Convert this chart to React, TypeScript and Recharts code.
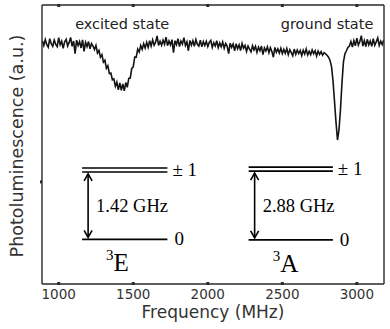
import { LineChart, Line, XAxis, YAxis, ReferenceLine, ReferenceDot } from 'recharts'

// ODMR trace, sampled every 10 MHz starting at 890 MHz
const FREQ_START = 890
const FREQ_STEP = 10

const PL = [
  87.2, 85.5, 87.6, 85.8, 84.9, 87.9, 86.1, 85.2, 87.4, 85.9,
  85.1, 88.3, 85.7, 87.0, 84.5, 86.8, 87.7, 85.3, 86.6, 88.4,
  85.2, 87.1, 82.6, 87.4, 85.5, 86.9, 84.6, 87.5, 83.4, 86.6,
  85.1, 86.9, 84.3, 86.2, 85.3, 84.0, 85.5, 82.8, 83.7, 81.3,
  82.2, 79.5, 80.2, 77.3, 78.2, 75.4, 75.6, 73.2, 73.5, 70.9,
  72.4, 69.6, 72.1, 69.4, 71.7, 69.2, 72.2, 70.5, 73.7, 73.8,
  77.3, 77.8, 81.3, 81.3, 84.2, 83.2, 85.5, 84.1, 86.1, 84.6,
  86.6, 84.8, 87.2, 85.3, 87.5, 85.6, 86.7, 88.9, 85.5, 87.0,
  85.6, 87.4, 85.9, 88.5, 85.4, 87.1, 85.7, 87.6, 82.9, 87.2,
  85.8, 87.9, 85.1, 87.1, 86.0, 88.3, 85.5, 86.8, 83.6, 87.3,
  85.6, 87.2, 85.2, 87.6, 85.9, 85.3, 87.4, 85.0, 86.9, 85.5,
  87.0, 85.1, 86.6, 87.3, 84.8, 86.5, 85.3, 87.2, 84.7, 86.4,
  85.0, 86.7, 84.5, 86.2, 85.3, 82.6, 86.3, 84.8, 86.0, 83.6,
  86.1, 84.3, 85.7, 83.7, 86.2, 84.5, 85.5, 83.4, 85.3, 84.2,
  83.2, 85.4, 83.9, 85.2, 83.0, 84.9, 83.6, 85.3, 82.2, 84.6,
  83.5, 85.0, 82.9, 84.7, 83.3, 81.3, 84.8, 83.1, 84.3, 82.8,
  84.5, 82.6, 84.1, 82.7, 84.4, 82.2, 84.0, 82.9, 81.8, 84.2,
  82.3, 83.9, 82.6, 83.7, 81.9, 83.8, 82.4, 84.2, 82.1, 83.4,
  82.2, 83.9, 82.5, 83.6, 81.7, 83.5, 82.3, 83.3, 82.0, 82.9,
  82.5, 82.0, 81.3, 80.1, 77.9, 72.8, 65.5, 58.0, 51.6, 55.2,
  62.5, 72.0, 79.6, 82.5, 83.6, 84.8, 85.3, 86.9, 84.9, 87.2,
  85.4, 88.1, 85.6, 86.9, 89.0, 85.3, 87.2, 85.1, 87.7, 85.7,
  87.1, 85.2, 87.9, 85.6, 86.8, 88.2, 85.5, 87.0, 85.8, 87.5,
]

const X_DOMAIN = [888, 3182]
const X_TICKS = [1000, 1500, 2000, 2500, 3000]
const Y_TICKS = [36.6]

const PEAK_NAMES = ['excited state', 'ground state']
const PEAK_NAME_FREQ = [1426, 2800]
const PEAK_NAME_PL = 93.2

// energy level sketches: ground line at `low`, the ±1 doublet at `high`
const LEVELS = [
  { term: 'E', gap: '1.42 GHz', from: 1157, to: 1729, low: 16.0, high: 41.6 },
  { term: 'A', gap: '2.88 GHz', from: 2274, to: 2839, low: 15.8, high: 41.9 },
]

const data = PL.map((pl, i) => ({ freq: FREQ_START + i * FREQ_STEP, pl }))

const SANS = '"DejaVu Sans", sans-serif'
const SERIF = '"Liberation Serif", "Times New Roman", serif'
const INK = '#2a2a2a'

function BottomTick({ x, y, payload }: any) {
  return (
    <g>
      <rect x={x - 1.5} y={y - 2} width={3} height={3} fill={INK} />
      <text x={x} y={y + 15} textAnchor="middle" fontSize={13.5} fontFamily={SANS} fill="#333">
        {payload.value}
      </text>
    </g>
  )
}

function TopTick({ x, y }: any) {
  return <rect x={x - 1.5} y={y - 1} width={3} height={3} fill={INK} />
}

function LeftTick({ x, y }: any) {
  return <rect x={x - 2} y={y - 1.5} width={2} height={3} fill={INK} />
}

function RightTick({ x, y }: any) {
  return <rect x={x - 1} y={y - 1.5} width={2} height={3} fill={INK} />
}

function YTitle() {
  return (
    <text
      x={17}
      y={146}
      transform="rotate(-90 17 146)"
      textAnchor="middle"
      dominantBaseline="central"
      fontSize={17.5}
      fontFamily={SANS}
      fill="#333"
    >
      Photoluminescence (a.u.)
    </text>
  )
}

function XTitle() {
  return (
    <text x={213} y={318} textAnchor="middle" fontSize={17} fontFamily={SANS} fill="#333">
      Frequency (MHz)
    </text>
  )
}

function LevelDiagram({ x1, y1, x2, y2, level }: any) {
  const ax = x1 + 6
  const dbl = y2 + 4
  const mid = (dbl + y1) / 2
  return (
    <g fontFamily={SERIF} fill="#000">
      <line x1={x1} x2={x2} y1={y2} y2={y2} stroke="#000" strokeWidth={1.6} />
      <line x1={x1} x2={x2} y1={dbl} y2={dbl} stroke="#000" strokeWidth={1.6} />
      <line x1={x1} x2={x2} y1={y1} y2={y1} stroke="#000" strokeWidth={1.8} />
      <line x1={ax} x2={ax} y1={dbl + 2} y2={y1 - 2} stroke="#000" strokeWidth={1.6} />
      <polyline
        points={`${ax - 4},${dbl + 9} ${ax},${dbl + 2} ${ax + 4},${dbl + 9}`}
        fill="none"
        stroke="#000"
        strokeWidth={1.6}
      />
      <polyline
        points={`${ax - 4},${y1 - 9} ${ax},${y1 - 2} ${ax + 4},${y1 - 9}`}
        fill="none"
        stroke="#000"
        strokeWidth={1.6}
      />
      <text x={x1 + 14} y={mid + 6} fontSize={18.5}>{level.gap}</text>
      <text x={x2 + 5} y={y2 + 8} fontSize={19}>± 1</text>
      <text x={x2 + 7} y={y1 + 6} fontSize={19}>0</text>
      <text x={x1 + 24} y={y1 + 32}>
        <tspan fontSize={15} dy={-11}>3</tspan>
        <tspan fontSize={25} dy={11}>{level.term}</tspan>
      </text>
    </g>
  )
}

export default function App() {
  return (
    <div style={{ position: 'absolute', left: 0, top: 0, width: 390, height: 329, background: '#fff' }}>
      <LineChart width={390} height={329} data={data} margin={{ top: 0, right: 0, bottom: 0, left: 0 }}>
        <XAxis
          dataKey="freq"
          type="number"
          domain={X_DOMAIN}
          allowDataOverflow
          ticks={X_TICKS}
          interval={0}
          height={45}
          tickSize={0}
          tickMargin={0}
          tick={BottomTick}
          tickLine={false}
          axisLine={{ stroke: INK, strokeWidth: 1.4 }}
          label={<XTitle />}
        />
        <XAxis
          xAxisId="top"
          orientation="top"
          dataKey="freq"
          type="number"
          domain={X_DOMAIN}
          allowDataOverflow
          ticks={X_TICKS}
          interval={0}
          height={5}
          tickSize={0}
          tickMargin={0}
          tick={TopTick}
          tickLine={false}
          axisLine={{ stroke: INK, strokeWidth: 1.4 }}
        />
        <YAxis
          type="number"
          domain={[0, 100]}
          ticks={Y_TICKS}
          interval={0}
          width={42}
          tickSize={0}
          tickMargin={0}
          tick={LeftTick}
          tickLine={false}
          axisLine={{ stroke: INK, strokeWidth: 1.4 }}
          label={<YTitle />}
        />
        <YAxis
          yAxisId="right"
          orientation="right"
          type="number"
          domain={[0, 100]}
          ticks={Y_TICKS}
          interval={0}
          width={6}
          tickSize={0}
          tickMargin={0}
          tick={RightTick}
          tickLine={false}
          axisLine={{ stroke: INK, strokeWidth: 1.4 }}
        />
        {LEVELS.map(lv => (
          <ReferenceLine
            key={lv.term}
            segment={[{ x: lv.from, y: lv.low }, { x: lv.to, y: lv.high }]}
            shape={(p: any) => <LevelDiagram {...p} level={lv} />}
          />
        ))}
        {PEAK_NAMES.map((name, i) => (
          <ReferenceDot
            key={name}
            x={PEAK_NAME_FREQ[i]}
            y={PEAK_NAME_PL}
            r={0}
            stroke="none"
            label={{ value: name, position: 'center', fontSize: 14.5, fontFamily: SANS, fill: '#222' }}
          />
        ))}
        <Line
          dataKey="pl"
          stroke="#141414"
          strokeWidth={1.6}
          dot={false}
          isAnimationActive={false}
        />
      </LineChart>
    </div>
  )
}
